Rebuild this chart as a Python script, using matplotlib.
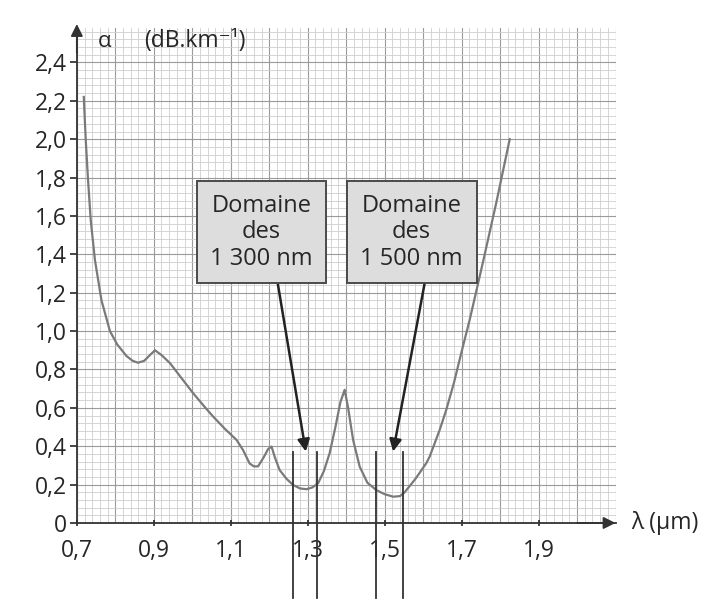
import matplotlib.pyplot as plt
from matplotlib.patches import Rectangle
import numpy as np

plt.rcParams['font.family'] = ['Open Sans', 'DejaVu Sans']

# attenuation curve
lam = [0.718, 0.723, 0.729, 0.736, 0.747, 0.764, 0.786, 0.805, 0.829, 0.845, 0.859,
       0.875, 0.890, 0.903, 0.920, 0.942, 0.970, 1.002, 1.030, 1.054, 1.085, 1.115,
       1.132, 1.149, 1.160, 1.171, 1.185, 1.197, 1.206, 1.215, 1.227, 1.245, 1.262,
       1.280, 1.297, 1.312, 1.327, 1.342, 1.357, 1.372, 1.385, 1.396, 1.405, 1.418,
       1.435, 1.455, 1.478, 1.500, 1.522, 1.540, 1.552, 1.580, 1.608, 1.617, 1.643,
       1.660, 1.680, 1.699, 1.721, 1.755, 1.790, 1.825]
alpha = [2.22, 2.00, 1.79, 1.58, 1.37, 1.16, 1.00, 0.93, 0.87, 0.845, 0.835,
         0.845, 0.875, 0.90, 0.875, 0.833, 0.76, 0.677, 0.61, 0.555, 0.49, 0.433,
         0.38, 0.31, 0.295, 0.295, 0.34, 0.385, 0.398, 0.34, 0.276, 0.23, 0.198,
         0.18, 0.176, 0.185, 0.207, 0.27, 0.364, 0.50, 0.63, 0.694, 0.60, 0.433,
         0.294, 0.21, 0.172, 0.15, 0.137, 0.14, 0.16, 0.23, 0.311, 0.346, 0.485,
         0.589, 0.73, 0.885, 1.059, 1.355, 1.668, 2.00]

xticks = [0.7, 0.9, 1.1, 1.3, 1.5, 1.7, 1.9]
xlabels = ['0,7', '0,9', '1,1', '1,3', '1,5', '1,7', '1,9']
yticks = [0, 0.2, 0.4, 0.6, 0.8, 1.0, 1.2, 1.4, 1.6, 1.8, 2.0, 2.2, 2.4]
ylabels = ['0', '0,2', '0,4', '0,6', '0,8', '1,0', '1,2', '1,4', '1,6', '1,8', '2,0', '2,2', '2,4']

# window limits (vertical lines) and labels
windows = [1.261, 1.325, 1.478, 1.547]
box_texts = ['Domaine\ndes\n1 300 nm', 'Domaine\ndes\n1 500 nm']
box_left = [1.012, 1.401]
box_right = [1.348, 1.739]
box_bottom, box_top = 1.25, 1.78
arrow_tail = [(1.222, 1.25), (1.604, 1.25)]
arrow_tip = [(1.295, 0.372), (1.522, 0.372)]

ink = '#262626'

fig = plt.figure(figsize=(7.25, 6.06), dpi=100)
ax = fig.add_axes([0.106, 0.137, 0.743, 0.817])
ax.set_xlim(0.7, 2.1)
ax.set_ylim(0, 2.58)

# graph paper
for v in np.arange(0.7, 2.1001, 0.02):
    major = abs(round(v * 10) - v * 10) < 1e-6
    ax.axvline(v, color='#9a9a9a' if major else '#cfcfcf', lw=0.8 if major else 0.6, zorder=0)
for v in np.arange(0, 2.5801, 0.04):
    major = abs(round(v * 5) - v * 5) < 1e-6
    ax.axhline(v, color='#9a9a9a' if major else '#cfcfcf', lw=0.8 if major else 0.6, zorder=0)

ax.plot(lam, alpha, color='#7a7a7a', lw=1.6, zorder=3)

for w in windows:
    ax.plot([w, w], [-0.39, 0.372], color='#333333', lw=1.3, clip_on=False, zorder=4)

for t, x0, x1, tail, tip in zip(box_texts, box_left, box_right, arrow_tail, arrow_tip):
    ax.annotate('', xy=tip, xytext=tail,
                arrowprops=dict(arrowstyle='-|>', color='#222222', lw=1.8,
                                mutation_scale=18, shrinkA=0, shrinkB=0), zorder=5)
    ax.add_patch(Rectangle((x0, box_bottom), x1 - x0, box_top - box_bottom,
                           fc='#dddddd', ec='#4a4a4a', lw=1.4, zorder=6))
    ax.text((x0 + x1) / 2, (box_bottom + box_top) / 2, t, ha='center', va='center',
            fontsize=17, color=ink, linespacing=1.15, zorder=7)

for s in ['top', 'right']:
    ax.spines[s].set_visible(False)
ax.spines['left'].set_color('#333333')
ax.spines['bottom'].set_color('#333333')
ax.spines['left'].set_linewidth(1.3)
ax.spines['bottom'].set_linewidth(1.3)

ax.set_xticks(xticks)
ax.set_xticklabels(xlabels)
ax.set_yticks(yticks)
ax.set_yticklabels(ylabels)
ax.tick_params(axis='both', labelsize=16.5, colors=ink, length=5, width=1.2)
ax.tick_params(axis='x', direction='inout', pad=9)
ax.tick_params(axis='y', direction='out', pad=2)

# axis arrows
ax.annotate('', xy=(2.1, 0), xytext=(2.0, 0),
            arrowprops=dict(arrowstyle='-|>', color='#333333', lw=1.3, mutation_scale=18,
                            shrinkA=0, shrinkB=0),
            annotation_clip=False)
ax.annotate('', xy=(0.7, 2.6), xytext=(0.7, 2.45),
            arrowprops=dict(arrowstyle='-|>', color='#333333', lw=1.3, mutation_scale=18,
                            shrinkA=0, shrinkB=0),
            annotation_clip=False)

ax.text(0.755, 2.51, '\u03b1', fontsize=16, color=ink, va='center', ha='left', zorder=6)
ax.text(0.875, 2.51, '(dB.km\u207b\u00b9)', fontsize=16.5, color=ink, va='center', ha='left', zorder=6)
ax.text(2.14, 0, '\u03bb (\u00b5m)', fontsize=16.5, color=ink, va='center', ha='left',
        clip_on=False)

fig.savefig('out.png', dpi=100, facecolor='white')
